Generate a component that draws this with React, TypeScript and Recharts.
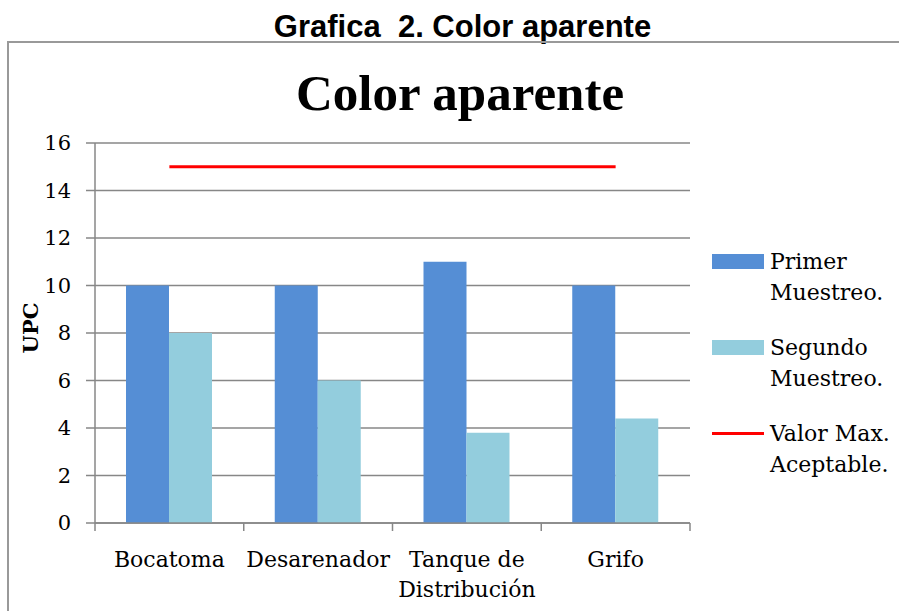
import { Bar, Line, XAxis, YAxis, CartesianGrid, Legend, ComposedChart } from "recharts";

const categories = ["Bocatoma", "Desarenador", "Tanque de Distribución", "Grifo"];
const primerMuestreo = [10, 10, 11, 10];
const segundoMuestreo = [8, 6, 3.8, 4.4];
const valorMaximo = [15, 15, 15, 15];
const yTicks = [0, 2, 4, 6, 8, 10, 12, 14, 16];

const data = categories.map((name, i) => ({
  name,
  primer: primerMuestreo[i],
  segundo: segundoMuestreo[i],
  valor: valorMaximo[i],
}));

const W = 899;
const H = 611;
const M = { top: 143, right: 209, bottom: 28, left: 35 };
const Y_AXIS_W = 60;
const PLOT_W = W - M.left - Y_AXIS_W - M.right;
const BAND = PLOT_W / categories.length;
const SERIF = "'DejaVu Serif', serif";
const AXIS_GRAY = "#878787";

function wrap(label: string, max = 12) {
  const lines: string[] = [];
  let cur = "";
  for (const w of label.split(" ")) {
    const next = cur ? cur + " " + w : w;
    if (next.length > max && cur) {
      lines.push(cur);
      cur = w;
    } else cur = next;
  }
  if (cur) lines.push(cur);
  return lines;
}

function CategoryTick(props: any) {
  const { x, y, payload, index } = props;
  const lines = wrap(payload.value);
  const left = x - BAND / 2;
  return (
    <g>
      <line x1={left} x2={left} y1={y - 8} y2={y} stroke={AXIS_GRAY} strokeWidth={1.5} />
      {index === categories.length - 1 && (
        <line x1={left + BAND} x2={left + BAND} y1={y - 8} y2={y} stroke={AXIS_GRAY} strokeWidth={1.5} />
      )}
      <text x={x} y={y + 36} textAnchor="middle" fontFamily={SERIF} fontSize={22} fill="#000">
        {lines.map((l, i) => (
          <tspan key={i} x={x} dy={i === 0 ? 0 : 30}>
            {l}
          </tspan>
        ))}
      </text>
    </g>
  );
}

function ValueTick(props: any) {
  const { x, y, payload } = props;
  return (
    <text x={x} y={y} dy={7} textAnchor="end" fontFamily={SERIF} fontSize={21} fill="#000">
      {payload.value}
    </text>
  );
}

function UpcLabel(props: any) {
  const vb = props.viewBox || { y: 143, height: 380 };
  const cx = 30;
  const cy = vb.y + vb.height / 2 - 5;
  return (
    <text
      x={cx}
      y={cy}
      transform={`rotate(-90 ${cx} ${cy})`}
      textAnchor="middle"
      dominantBaseline="central"
      fontFamily={SERIF}
      fontWeight="bold"
      fontSize={21}
      fill="#000"
    >
      UPC
    </text>
  );
}

const legendItems = [
  { label: ["Primer", "Muestreo."], color: "#558ED5", kind: "bar" },
  { label: ["Segundo", "Muestreo."], color: "#93CDDD", kind: "bar" },
  { label: ["Valor Max.", "Aceptable."], color: "#FF0000", kind: "line" },
];

function LegendContent() {
  return (
    <div style={{ fontFamily: SERIF, fontSize: 22, color: "#000" }}>
      {legendItems.map((it) => (
        <div key={it.label[0]} style={{ display: "flex", alignItems: "flex-start", marginBottom: 24 }}>
          <div style={{ width: 52, height: 31, position: "relative", marginRight: 6 }}>
            {it.kind === "bar" ? (
              <div style={{ position: "absolute", left: 0, top: 8, width: 52, height: 15, background: it.color }} />
            ) : (
              <div style={{ position: "absolute", left: 0, top: 14, width: 52, height: 3, background: it.color }} />
            )}
          </div>
          <div style={{ lineHeight: "31px", textAlign: "left", whiteSpace: "nowrap" }}>
            {it.label.map((l) => (
              <div key={l}>{l}</div>
            ))}
          </div>
        </div>
      ))}
    </div>
  );
}

export default function App() {
  return (
    <div style={{ position: "absolute", left: 0, top: 0, width: W, height: H, background: "#fff", overflow: "hidden" }}>
      <div
        style={{
          position: "absolute",
          left: 0,
          width: 925,
          top: 9,
          textAlign: "center",
          fontFamily: "'Liberation Sans', Arial, sans-serif",
          fontWeight: "bold",
          fontSize: 31,
          lineHeight: "36px",
        }}
      >
        Grafica&nbsp;&nbsp;2. Color aparente
      </div>
      <div
        style={{
          position: "absolute",
          left: 7,
          top: 41,
          width: W,
          height: H,
          borderLeft: "2px solid #999",
          borderTop: "2px solid #999",
        }}
      />
      <div
        style={{
          position: "absolute",
          left: 0,
          width: 920,
          top: 63,
          textAlign: "center",
          fontFamily: "'Liberation Serif', serif",
          fontWeight: "bold",
          fontSize: 51,
          lineHeight: "60px",
        }}
      >
        Color aparente
      </div>
      <div style={{ position: "absolute", left: 0, top: 0 }}>
        <ComposedChart width={W} height={H} data={data} margin={M} barGap={0} barSize={43}>
          <CartesianGrid vertical={false} stroke={AXIS_GRAY} strokeWidth={1.5} />
          <XAxis
            dataKey="name"
            height={60}
            tickLine={false}
            axisLine={{ stroke: AXIS_GRAY, strokeWidth: 1.5 }}
            tick={<CategoryTick />}
            interval={0}
          />
          <YAxis
            width={Y_AXIS_W}
            domain={[0, 16]}
            ticks={yTicks}
            tickSize={9}
            tickMargin={15}
            axisLine={{ stroke: AXIS_GRAY, strokeWidth: 1.5 }}
            tickLine={{ stroke: AXIS_GRAY, strokeWidth: 1.5 }}
            tick={<ValueTick />}
            label={<UpcLabel />}
          />
          <Bar dataKey="primer" name="Primer Muestreo." fill="#558ED5" isAnimationActive={false} />
          <Bar dataKey="segundo" name="Segundo Muestreo." fill="#93CDDD" isAnimationActive={false} />
          <Line
            dataKey="valor"
            name="Valor Max. Aceptable."
            stroke="#FF0000"
            strokeWidth={3}
            dot={false}
            activeDot={false}
            isAnimationActive={false}
          />
          <Legend
            layout="vertical"
            align="center"
            verticalAlign="middle"
            content={<LegendContent />}
            wrapperStyle={{ left: 712, top: 246, width: 190 }}
          />
        </ComposedChart>
      </div>
    </div>
  );
}
